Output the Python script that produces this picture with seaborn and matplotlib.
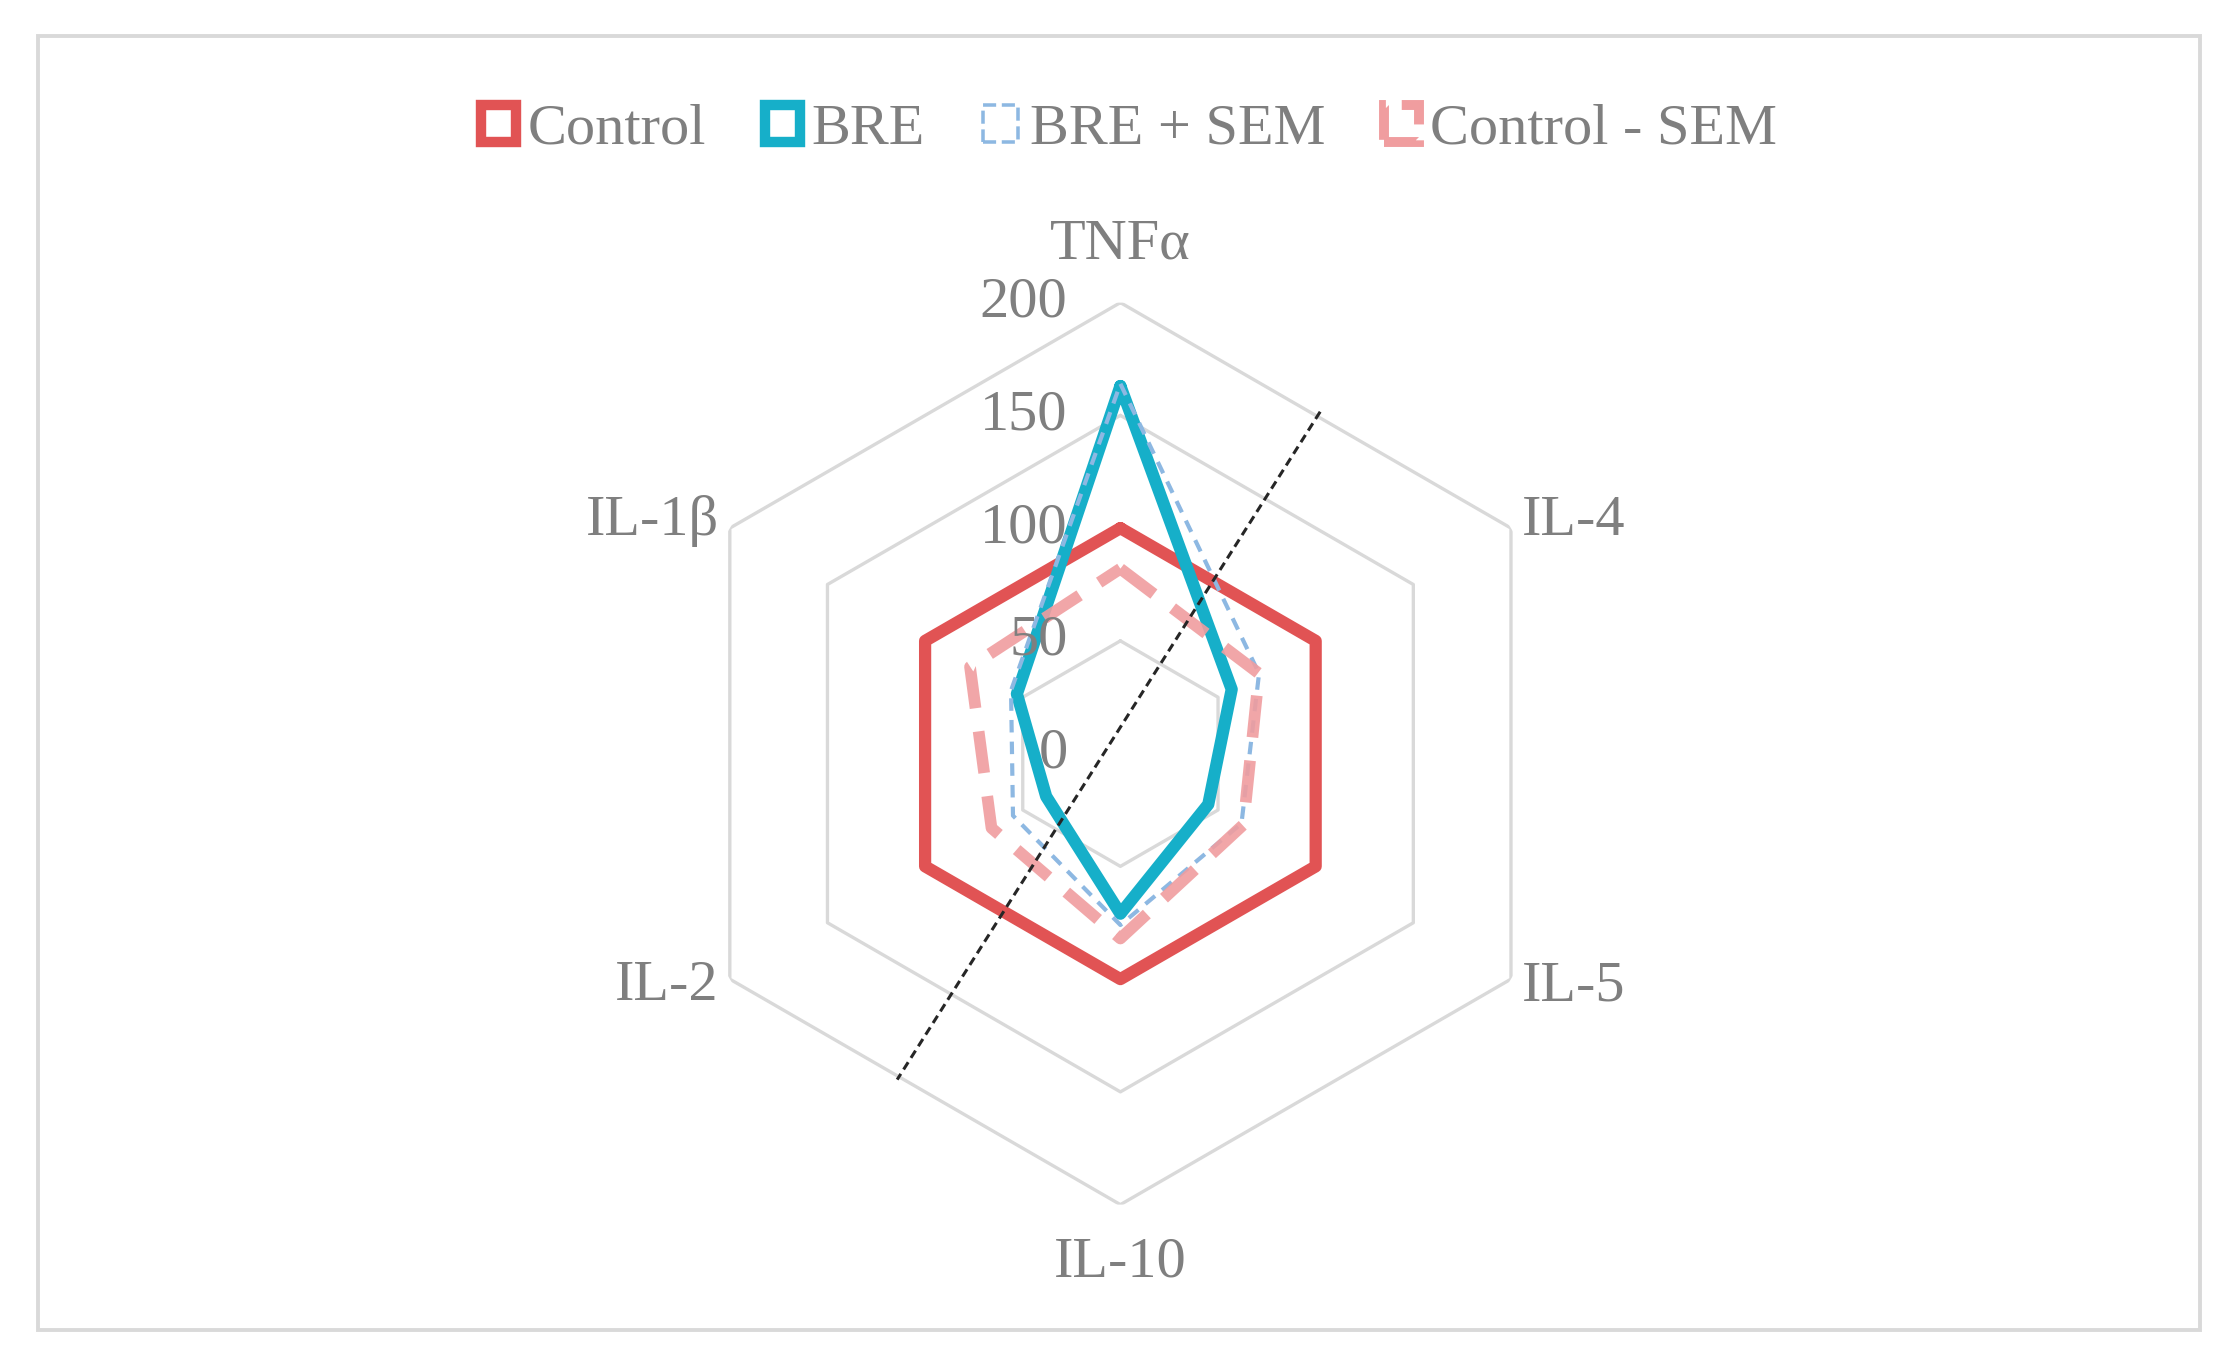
import numpy as np
import pandas as pd
import seaborn as sns
import matplotlib.pyplot as plt
from matplotlib.patches import Patch, Rectangle

# cytokine levels (Control = 100)
cytokines = ["TNFα", "IL-4", "IL-5", "IL-10", "IL-2", "IL-1β"]
control = [100, 100, 100, 100, 100, 100]
bre = [163, 57, 45, 71, 38, 53]
bre_plus_sem = [164, 71, 62, 76, 55, 56]
control_minus_sem = [82, 71, 63, 82, 66, 77]
ring_levels = [0, 50, 100, 150, 200]

# dotted divider across the chart: angle (deg, clockwise from TNFα) and radius
divider_deg = [30.3, 214.4]
divider_r = [175.6, 175.2]

series_names = ["Control", "BRE", "BRE + SEM", "Control - SEM"]
series_vals = [control, bre, bre_plus_sem, control_minus_sem]

theta = np.deg2rad(np.arange(len(cytokines)) * 360 / len(cytokines))
theta_closed = np.append(theta, theta[0] + 2 * np.pi)

rows = []
for name, vals in zip(series_names, series_vals):
    for t, v in zip(theta_closed, list(vals) + [vals[0]]):
        rows.append({"series": name, "theta": t, "value": v})
df = pd.DataFrame(rows)

styles = {
    "Control": dict(color="#E15354", linewidth=4.4, linestyle="-"),
    "BRE": dict(color="#16AFC9", linewidth=4.4, linestyle="-"),
    "BRE + SEM": dict(color="#8DB8E2", linewidth=1.5, linestyle=(0, (3.0, 2.2))),
    "Control - SEM": dict(color="#F09D9F", linewidth=4.2, linestyle=(0, (3.6, 2.0)), alpha=0.9),
}

sns.set_theme(style="white")
plt.rcParams["font.family"] = ["Liberation Serif", "DejaVu Serif"]
grey_txt = "#7F7F7F"

fig = plt.figure(figsize=(11.115, 6.765), dpi=200)
cx, cy = 0.504, 0.443
rh = 451 / 1353
rw = 451 / 2223
ax = fig.add_axes([cx - rw, cy - rh, 2 * rw, 2 * rh], projection="polar")
ax.set_theta_offset(np.pi / 2)
ax.set_theta_direction(-1)

# hexagonal gridlines
for lvl in ring_levels[1:]:
    ax.plot(theta_closed, [lvl] * len(theta_closed), color="#D9D9D9", lw=1.2, zorder=1)

for name in series_names:
    sns.lineplot(data=df[df["series"] == name], x="theta", y="value", ax=ax,
                 sort=False, estimator=None, zorder=2, **styles[name])

ax.plot(np.deg2rad(divider_deg), divider_r, color="#262626", lw=1.1,
        linestyle=(0, (2.8, 1.7)), zorder=2.5)

ax.set_ylim(0, 200)
ax.grid(False)
ax.spines["polar"].set_visible(False)
ax.set_xticks([])
ax.set_yticks([])
ax.set_xlabel("")
ax.set_ylabel("")

# category labels around the hexagon
for t, lab in zip(theta, cytokines):
    s, c = np.sin(t), np.cos(t)
    if abs(s) < 0.1:
        ha, off = "center", (0, 21 * np.sign(c))
    else:
        ha, off = ("left" if s > 0 else "right"), (4 * np.sign(s), 2.5 * np.sign(c))
    ax.annotate(lab, xy=(t, 200), xytext=off, textcoords="offset points",
                ha=ha, va="center", fontsize=21, color=grey_txt)

# radial value labels along the TNFα axis
for lvl in ring_levels:
    ax.annotate(str(lvl), xy=(0, lvl), xytext=(-19, 0), textcoords="offset points",
                ha="right", va="center", fontsize=21, color=grey_txt)

handles = [
    Patch(facecolor="white", edgecolor=styles[n]["color"], linewidth=styles[n]["linewidth"] * 0.85,
          linestyle=("--" if "SEM" in n else "-"))
    for n in series_names
]
fig.legend(handles, series_names, loc="center", bbox_to_anchor=(0.508, 0.904), ncol=4,
           frameon=False, handlelength=0.6, handleheight=0.6, handletextpad=0.2,
           columnspacing=1.0, fontsize=21, labelcolor=grey_txt)

fig.patches.append(Rectangle((38 / 2223, 1 - 1330 / 1353), (2200 - 38) / 2223, (1330 - 36) / 1353,
                             transform=fig.transFigure, fill=False, edgecolor="#D9D9D9", lw=1.4))

fig.savefig("out.png", dpi=200)
